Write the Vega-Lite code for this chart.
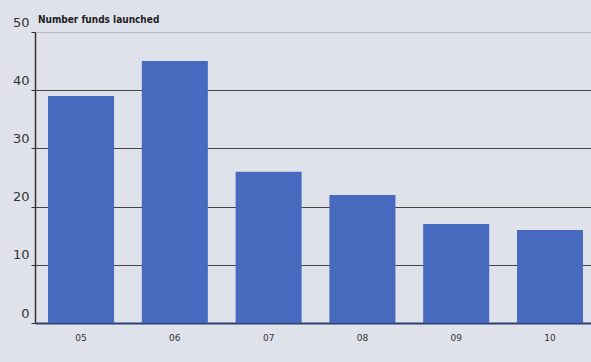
{
  "$schema": "https://vega.github.io/schema/vega-lite/v6.json",
  "width": 556,
  "height": 291,
  "autosize": {"type": "none"},
  "padding": {"left": 35, "top": 32, "right": 0, "bottom": 39},
  "background": "#dfe2ea",
  "title": {
    "text": "Number funds launched",
    "anchor": "start",
    "frame": "group",
    "dx": 3,
    "offset": -9,
    "font": "DejaVu Sans Condensed",
    "fontSize": 10,
    "fontWeight": "bold",
    "color": "#222"
  },
  "config": {
    "view": {"stroke": null},
    "axis": {"labelFont": "DejaVu Sans", "labelColor": "#333"}
  },
  "data": {
    "values": [
      {"year": "05", "funds": 39},
      {"year": "06", "funds": 45},
      {"year": "07", "funds": 26},
      {"year": "08", "funds": 22},
      {"year": "09", "funds": 17},
      {"year": "10", "funds": 16}
    ]
  },
  "mark": {"type": "bar", "color": "#4769be"},
  "encoding": {
    "x": {
      "field": "year",
      "type": "ordinal",
      "scale": {"paddingInner": 0.296, "paddingOuter": 0.112, "align": 0.62},
      "axis": {
        "title": null,
        "labelAngle": 0,
        "labelFontSize": 9,
        "labelPadding": 10,
        "ticks": false,
        "domain": true,
        "domainColor": "#2d3f70",
        "domainWidth": 2
      }
    },
    "y": {
      "field": "funds",
      "type": "quantitative",
      "scale": {"domain": [0, 50]},
      "axis": {
        "title": null,
        "values": [0, 10, 20, 30, 40, 50],
        "labelFontSize": 13,
        "labelPadding": 2,
        "labelOffset": -10,
        "tickSize": 4,
        "tickColor": "#333",
        "domainColor": "#333",
        "domainWidth": 1.5,
        "gridColor": {"condition": {"test": "datum.value == 50", "value": "#b8bcc6"}, "value": "#444"},
        "gridWidth": 1.2,
        "gridOpacity": 1
      }
    }
  }
}
